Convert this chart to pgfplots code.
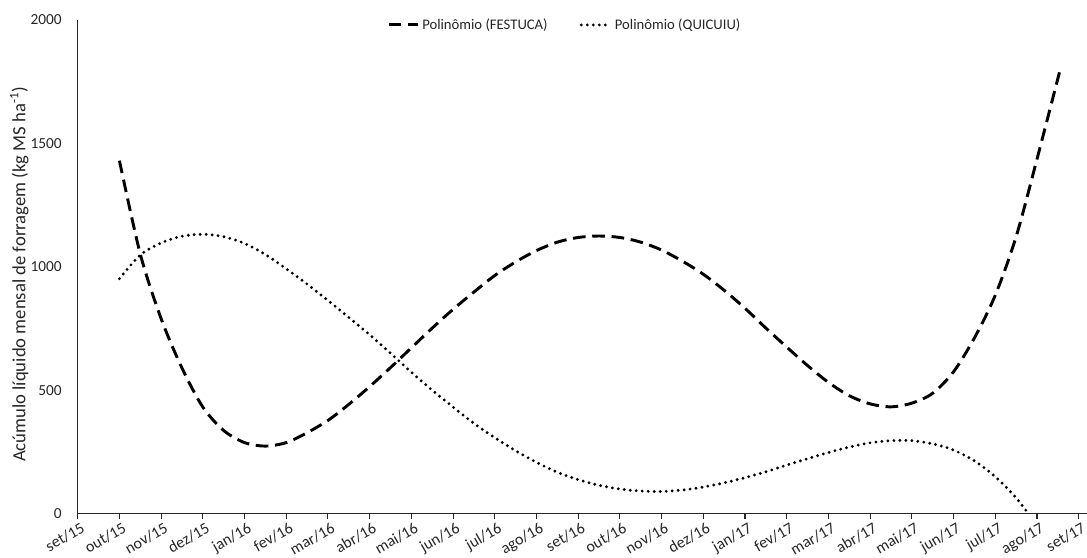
\documentclass[border=0pt]{standalone}
\usepackage{fontspec}
\setmainfont{Carlito}
\usepackage{pgfplots}
\pgfplotsset{compat=1.18}
\begin{document}
\begin{tikzpicture}
\path[use as bounding box] (-58.3pt,-33.2pt) rectangle (757pt,385.3pt);
\begin{axis}[
  at={(0pt,0pt)}, anchor=south west,
  width=757pt, height=370.3pt, scale only axis,
  xmin=0, xmax=24.2, ymin=0, ymax=2000,
  axis x line=bottom, axis y line=left,
  axis line style={-, line width=0.9pt, black!85},
  tick align=outside, major tick length=4pt,
  xtick={0,...,24},
  xticklabels={set/15,out/15,nov/15,dez/15,jan/16,fev/16,mar/16,abr/16,mai/16,jun/16,jul/16,ago/16,set/16,out/16,nov/16,dez/16,jan/17,fev/17,mar/17,abr/17,mai/17,jun/17,jul/17,ago/17,set/17},
  xtick style={black!85, line width=0.8pt},
  xticklabel style={xshift=3pt, yshift=3pt, rotate=30, anchor=north east, font=\fontsize{12}{14}\selectfont, text=black!85},
  ytick={0,500,1000,1500,2000},
  ytick style={draw=none},
  yticklabel style={xshift=-4.5pt, font=\fontsize{11.5}{13}\selectfont, text=black!85},
  /pgf/number format/assume math mode=true,
  /pgf/number format/1000 sep={},
  ylabel={Acúmulo líquido mensal de forragem (kg MS ha\textsuperscript{-1})},
  ylabel style={at={(axis description cs:-0.058,0.485)}, anchor=center, font=\fontsize{14}{16}\selectfont, text=black!85},
  legend columns=2,
  legend style={at={(axis description cs:0.483,0.99)}, anchor=center, draw=none, fill=none,
    font=\fontsize{11}{13}\selectfont, text=black!85,
    /tikz/every even column/.append style={column sep=22pt}},
  legend image code/.code={\draw[#1] (0pt,0pt) -- (22pt,0pt);},
]
\addplot[black, line width=2.2pt, dash pattern=on 9.5pt off 5pt, smooth] coordinates {
(1,1430) (1.5,1052) (2,790) (2.5,590) (3,432) (3.5,337) (4,288) (4.5,274) (5,288) (5.5,328) (6,378) (6.5,443) (7,515) (7.5,592) (8,672) (8.5,752) (9,828) (9.5,898) (10,965) (10.5,1020) (11,1066) (11.5,1100) (12,1119) (12.5,1125) (13,1119) (13.5,1100) (14,1068) (14.5,1023) (15,970) (15.5,905) (16,832) (16.5,752) (17,675) (17.5,600) (18,532) (18.5,478) (19,445) (19.5,433) (20,448) (20.5,488) (21,575) (21.5,712) (22,885) (22.5,1122) (23,1436) (23.55,1795)
};
\addlegendentry{Polinômio (FESTUCA)}
\addplot[black, line width=2.4pt, line cap=round, dash pattern=on 0pt off 4.5pt, smooth] coordinates {
(1,952) (1.5,1048) (2,1097) (2.5,1124) (3,1132) (3.5,1122) (4,1095) (4.5,1050) (5,992) (5.5,930) (6,864) (6.5,795) (7,725) (7.5,650) (8,573) (8.5,500) (9,432) (9.5,366) (10,308) (10.5,255) (11,208) (11.5,168) (12,138) (12.5,115) (13,100) (13.5,92) (14,90) (14.5,96) (15,108) (15.5,125) (16,146) (16.5,170) (17,197) (17.5,223) (18,248) (18.5,270) (19,287) (19.5,296) (20,296) (20.5,283) (21,258) (21.5,214) (22,150) (22.5,64) (23,-50) (23.5,-200)
};
\addlegendentry{Polinômio (QUICUIU)}
\end{axis}
\end{tikzpicture}
\end{document}
